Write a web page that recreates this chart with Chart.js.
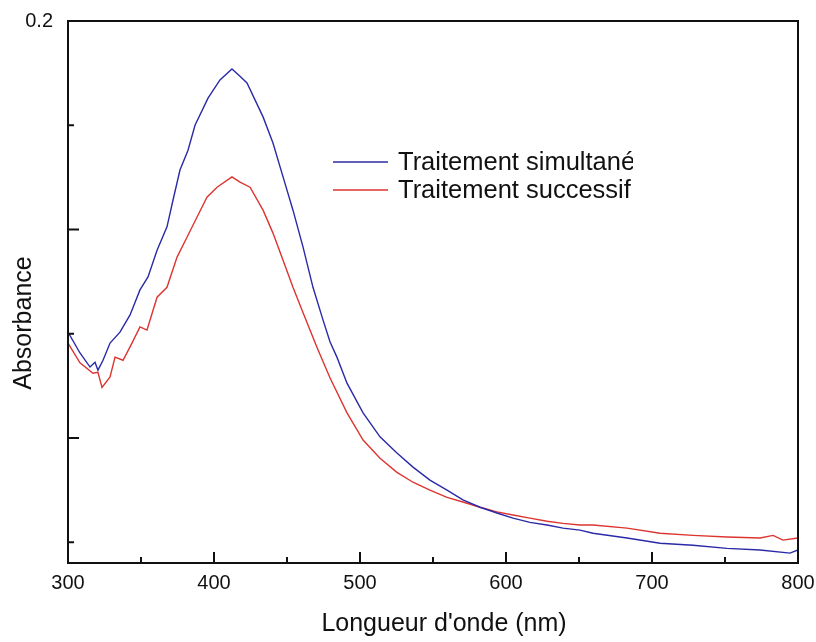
<!DOCTYPE html>
<html>
<head>
<meta charset="utf-8">
<script src="https://cdn.jsdelivr.net/npm/chart.js@4.4.1/dist/chart.umd.min.js"></script>
<style>
  html, body { margin: 0; padding: 0; background: #fff; }
  #wrap { width: 816px; height: 642px; }
</style>
</head>
<body>
<div id="wrap"><canvas id="absChart" width="816" height="642"></canvas></div>
<script>
// Wavelengths (nm) and absorbance
const blueNm = [300, 308.2, 315.1, 318.5, 320.5, 324, 328.8, 335.6, 342.5, 349.3, 354.8, 361, 367.8, 371.9, 376.7, 382.2, 387, 395.9, 404.1, 412.3, 417.8, 422.6, 433.6, 440.4, 447.3, 454.1, 461, 467.8, 474.7, 479.5, 484.2, 491.1, 502.1, 513.7, 525.3, 536.3, 547.9, 559.6, 570.5, 582.2, 593.8, 604.8, 616.4, 628.1, 639, 650.7, 659.6, 682.9, 705.5, 728.1, 751.4, 774, 794.5, 800];
const blueAbs = [0.1403, 0.1363, 0.1336, 0.1345, 0.1330, 0.1349, 0.1382, 0.1403, 0.1436, 0.1484, 0.1509, 0.1560, 0.1605, 0.1656, 0.1714, 0.1752, 0.1800, 0.1852, 0.1887, 0.1908, 0.1894, 0.1881, 0.1816, 0.1766, 0.1701, 0.1637, 0.1566, 0.1489, 0.1426, 0.1384, 0.1355, 0.1305, 0.1248, 0.1202, 0.1171, 0.1144, 0.1119, 0.1100, 0.1081, 0.1067, 0.1056, 0.1046, 0.1038, 0.1033, 0.1027, 0.1023, 0.1017, 0.1008, 0.0998, 0.0994, 0.0988, 0.0985, 0.0979, 0.0985];

const redNm = [300, 308.2, 317.1, 320.5, 323.3, 328.8, 332.2, 337.7, 343.8, 349.3, 354.1, 361, 367.8, 374.7, 381.5, 388.4, 395.2, 402.1, 412.3, 417.8, 424.7, 433.6, 440.4, 447.3, 454.1, 461, 470.5, 479.5, 491.1, 502.1, 513.7, 525.3, 536.3, 547.9, 559.6, 570.5, 582.2, 593.8, 604.8, 616.4, 628.1, 639, 650.7, 659.6, 682.9, 705.5, 728.1, 751.4, 774, 782.9, 789.7, 800];
const redAbs = [0.1382, 0.1344, 0.1324, 0.1326, 0.1297, 0.1317, 0.1355, 0.1349, 0.1382, 0.1413, 0.1407, 0.1470, 0.1489, 0.1547, 0.1585, 0.1624, 0.1662, 0.1681, 0.1701, 0.1691, 0.1681, 0.1637, 0.1593, 0.1541, 0.1489, 0.1440, 0.1374, 0.1315, 0.1248, 0.1196, 0.1161, 0.1134, 0.1115, 0.1100, 0.1086, 0.1077, 0.1067, 0.1058, 0.1052, 0.1046, 0.1040, 0.1036, 0.1033, 0.1033, 0.1027, 0.1017, 0.1013, 0.1010, 0.1008, 0.1013, 0.1004, 0.1008];

const seriesLabels = ["Traitement simultané", "Traitement successif"];
const xTitle = "Longueur d'onde (nm)";
const yTitle = "Absorbance";
const xMajorTicks = [300, 400, 500, 600, 700, 800];
const xMinorTicks = [350, 450, 550, 650, 750];
const yMajorTicks = [0.2, 0.16, 0.12];
const yMinorTicks = [0.18, 0.14, 0.10];
const yTickLabels = ["0.2"];

const FONT = "'Liberation Sans', Arial, sans-serif";

function toPoints(xs, ys) {
    return xs.map((x, i) => ({ x: x, y: ys[i] }));
}

// frame plus inward ticks, drawn from the scales
const framePlugin = {
    id: "frame",
    afterDatasetsDraw(chart) {
        const ctx = chart.ctx;
        const a = chart.chartArea;
        const xs = chart.scales.x;
        const ys = chart.scales.y;
        ctx.save();
        ctx.strokeStyle = "#111";
        ctx.lineWidth = 2;
        ctx.strokeRect(a.left, a.top, a.right - a.left, a.bottom - a.top);
        ctx.beginPath();
        xMajorTicks.forEach(v => { const p = xs.getPixelForValue(v); ctx.moveTo(p, a.bottom); ctx.lineTo(p, a.bottom - 11); });
        xMinorTicks.forEach(v => { const p = xs.getPixelForValue(v); ctx.moveTo(p, a.bottom); ctx.lineTo(p, a.bottom - 6); });
        yMajorTicks.forEach(v => { const p = ys.getPixelForValue(v); ctx.moveTo(a.left, p); ctx.lineTo(a.left + 11, p); });
        yMinorTicks.forEach(v => { const p = ys.getPixelForValue(v); ctx.moveTo(a.left, p); ctx.lineTo(a.left + 6, p); });
        ctx.stroke();
        ctx.restore();
    }
};

// axis titles sit a bit off-centre in the original, so place them by hand
const titlesPlugin = {
    id: "axisTitles",
    afterDraw(chart) {
        const ctx = chart.ctx;
        ctx.save();
        ctx.fillStyle = "#111";
        ctx.font = "25px " + FONT;
        ctx.textAlign = "center";
        ctx.textBaseline = "middle";
        ctx.fillText(xTitle, 444, 624);
        ctx.translate(24, 323);
        ctx.rotate(-Math.PI / 2);
        ctx.fillText(yTitle, 0, 0);
        ctx.restore();
    }
};

// legend inside the plot, cut on the right like the original
const legendPlugin = {
    id: "innerLegend",
    afterDraw(chart) {
        const ctx = chart.ctx;
        ctx.save();
        ctx.beginPath();
        ctx.rect(0, 0, 633, 642);
        ctx.clip();
        ctx.font = "25.5px " + FONT;
        ctx.textBaseline = "middle";
        chart.data.datasets.forEach((ds, i) => {
            const y = 162 + i * 28;
            ctx.strokeStyle = ds.borderColor;
            ctx.lineWidth = 1.5;
            ctx.beginPath();
            ctx.moveTo(333, y);
            ctx.lineTo(388, y);
            ctx.stroke();
            ctx.fillStyle = "#111";
            ctx.fillText(ds.label, 398, y + 1);
        });
        ctx.restore();
    }
};

function initializeChart() {
    const ctx = document.getElementById("absChart").getContext("2d");
    return new Chart(ctx, {
        type: "line",
        data: {
            datasets: [
                {
                    label: seriesLabels[0],
                    data: toPoints(blueNm, blueAbs),
                    borderColor: "#2a2aa8",
                    borderWidth: 1.4,
                    pointRadius: 0,
                    tension: 0,
                    fill: false,
                },
                {
                    label: seriesLabels[1],
                    data: toPoints(redNm, redAbs),
                    borderColor: "#dc3530",
                    borderWidth: 1.4,
                    pointRadius: 0,
                    tension: 0,
                    fill: false,
                },
            ],
        },
        options: {
            responsive: false,
            animation: false,
            layout: { padding: { top: 21, right: 18, left: 0, bottom: 0 } },
            plugins: { legend: { display: false }, tooltip: { enabled: false } },
            scales: {
                x: {
                    type: "linear",
                    min: 300,
                    max: 800,
                    afterBuildTicks: s => { s.ticks = xMajorTicks.map(v => ({ value: v })); },
                    afterFit: s => { s.height = 79; s.paddingLeft = 0; s.paddingRight = 0; },
                    grid: { display: false, drawTicks: false },
                    border: { display: false },
                    ticks: { color: "#111", font: { family: FONT, size: 20 }, padding: 8, maxRotation: 0 },
                },
                y: {
                    type: "linear",
                    min: 0.096,
                    max: 0.2,
                    afterBuildTicks: s => { s.ticks = [{ value: 0.2 }]; },
                    afterFit: s => { s.width = 68; s.paddingTop = 0; s.paddingBottom = 0; },
                    grid: { display: false, drawTicks: false },
                    border: { display: false },
                    ticks: {
                        color: "#111",
                        font: { family: FONT, size: 20 },
                        padding: 15,
                        callback: (v, i) => yTickLabels[i],
                    },
                },
            },
        },
        plugins: [framePlugin, titlesPlugin, legendPlugin],
    });
}

document.addEventListener("DOMContentLoaded", initializeChart);
</script>
</body>
</html>
